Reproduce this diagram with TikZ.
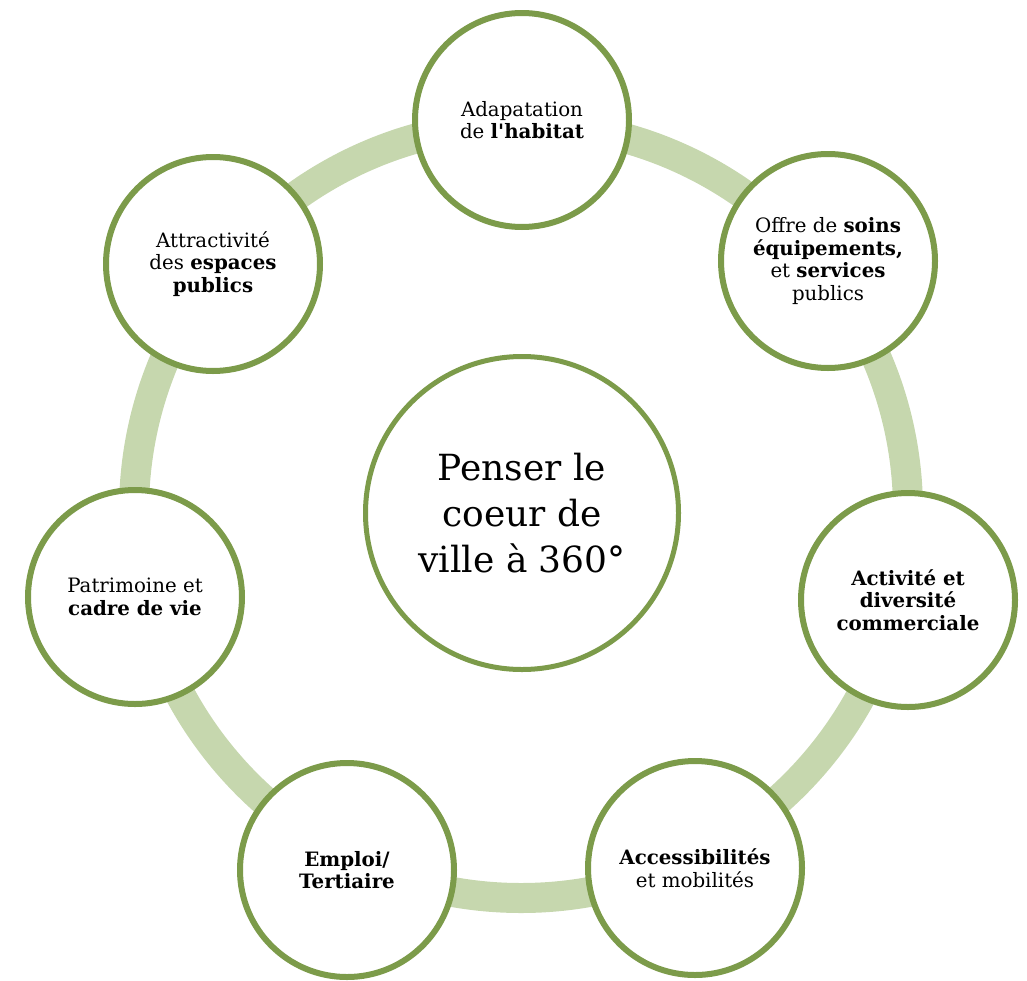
\documentclass[tikz,border=0pt]{standalone}
\usepackage{fontspec}
\setmainfont{DejaVu Serif}
\definecolor{ringgreen}{HTML}{C6D7AE}
\definecolor{leafgreen}{HTML}{7C9B4A}
% straight apostrophe, without the TeX quote mapping
\newcommand{\straightquote}{{\addfontfeatures{Ligatures=TeXOff}'}}
\begin{document}
\begin{tikzpicture}[x=1pt,y=-1pt,
  theme/.style={circle, draw=leafgreen, line width=6pt, fill=white,
    minimum size=214pt, inner sep=0pt, align=center,
    font=\fontsize{19.8}{22.5}\selectfont},
  hub/.style={circle, draw=leafgreen, line width=5pt, fill=white,
    minimum size=313pt, inner sep=0pt, align=center,
    font=\fontsize{36}{46}\selectfont},
  loop/.style={draw=ringgreen, line width=30pt}]
\useasboundingbox (0,0) rectangle (1027,980);

% the light ring that links the seven themes
\coordinate (ringcentre) at (521,511);
\path[loop] (ringcentre) circle[radius=387pt];

% central idea
\node[hub] (hub) at (522,513) {Penser le\\coeur de\\ville à 360°};

% the seven themes around it
\node[theme] (habitat) at (522,120)
  {Adapatation\\de \textbf{l\straightquote habitat}};
\node[theme] (soins) at (828,261)
  {Offre de \textbf{soins}\\\textbf{équipements,}\\et \textbf{services}\\publics};
\node[theme] (commerce) at (908,600)
  {\textbf{Activité et}\\\textbf{diversité}\\\textbf{commerciale}};
\node[theme] (mobilite) at (695,868)
  {\textbf{Accessibilités}\\et mobilités};
\node[theme] (emploi) at (347,870)
  {\textbf{Emploi/}\\\textbf{Tertiaire}};
\node[theme] (patrimoine) at (135,597)
  {Patrimoine et\\\textbf{cadre de vie}};
\node[theme] (espaces) at (213,264)
  {Attractivité\\des \textbf{espaces}\\\textbf{publics}};
\end{tikzpicture}
\end{document}
